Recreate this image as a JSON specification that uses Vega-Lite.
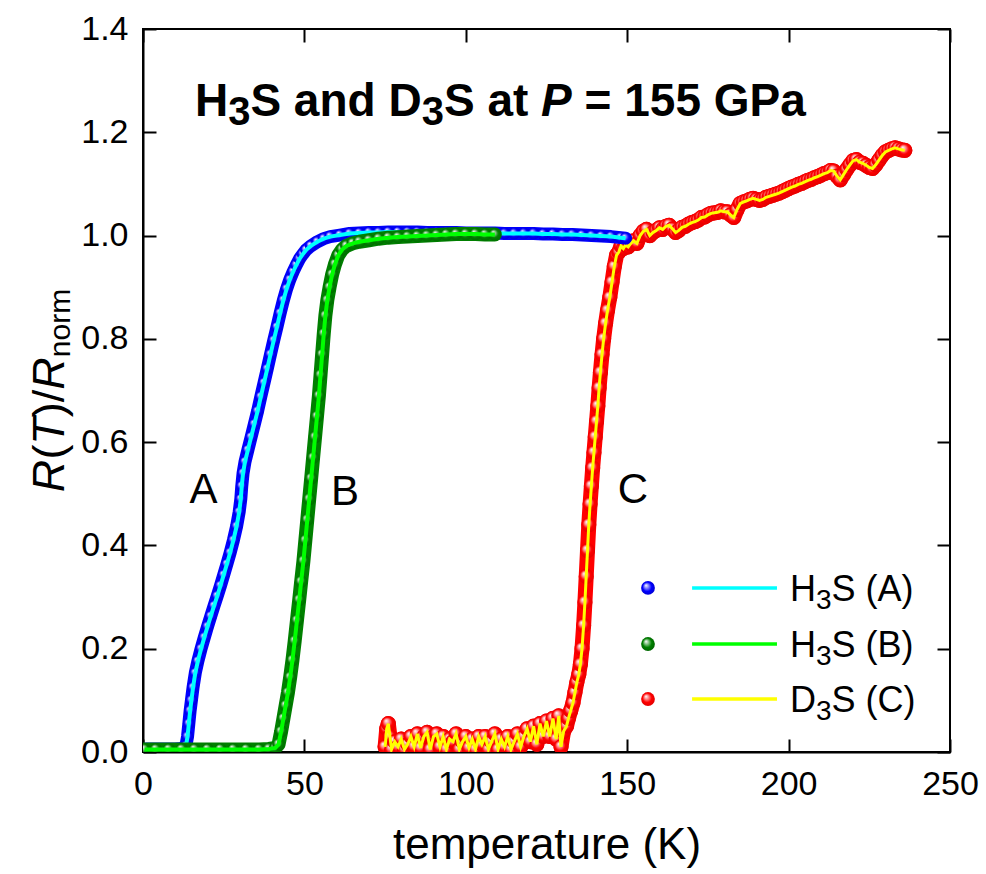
{
"$schema":"https://vega.github.io/schema/vega-lite/v6.json",
"autosize":{"type":"none"},
"padding":{"left":143,"top":29,"right":36,"bottom":122},
"width":807,"height":723,
"background":"#ffffff",
"config":{"view":{"stroke":"#000000","strokeWidth":2},"font":"Liberation Sans",
"axis":{"labelFont":"Liberation Sans","labelFontSize":34,"labelColor":"#000000","titleFont":"Liberation Sans","titleFontSize":44,"titleFontWeight":"normal","titleColor":"#000000","domainColor":"#000000","domainWidth":2,"tickColor":"#000000","tickWidth":2,"grid":false,"labelFlush":false,"labelOverlap":false}},
"datasets":{
"A":[{"T":1,"R":0.006},{"T":4,"R":0.006},{"T":7,"R":0.006},{"T":10,"R":0.006},{"T":12,"R":0.007},{"T":13.3,"R":0.012},{"T":13.8,"R":0.03},{"T":14.2,"R":0.055},{"T":14.6,"R":0.08},{"T":15,"R":0.1},{"T":15.5,"R":0.125},{"T":16.2,"R":0.153},{"T":17,"R":0.176},{"T":18,"R":0.2},{"T":19,"R":0.222},{"T":20,"R":0.243},{"T":21,"R":0.263},{"T":22,"R":0.283},{"T":23,"R":0.302},{"T":24,"R":0.322},{"T":25,"R":0.343},{"T":26,"R":0.364},{"T":27,"R":0.386},{"T":28,"R":0.41},{"T":29,"R":0.437},{"T":29.8,"R":0.465},{"T":30.3,"R":0.49},{"T":30.6,"R":0.515},{"T":31,"R":0.54},{"T":31.6,"R":0.562},{"T":32.5,"R":0.585},{"T":33.5,"R":0.61},{"T":34.5,"R":0.635},{"T":35.5,"R":0.66},{"T":36.5,"R":0.688},{"T":37.5,"R":0.715},{"T":38.5,"R":0.742},{"T":39.5,"R":0.77},{"T":40.5,"R":0.797},{"T":41.5,"R":0.823},{"T":42.5,"R":0.85},{"T":43.5,"R":0.875},{"T":44.5,"R":0.897},{"T":45.5,"R":0.915},{"T":46.5,"R":0.93},{"T":47.5,"R":0.943},{"T":48.5,"R":0.955},{"T":49.5,"R":0.964},{"T":50.5,"R":0.972},{"T":52,"R":0.98},{"T":54,"R":0.988},{"T":56,"R":0.994},{"T":58,"R":0.998},{"T":61,"R":1.001},{"T":64,"R":1.004},{"T":67,"R":1.005},{"T":70,"R":1.006},{"T":73,"R":1.006},{"T":76,"R":1.007},{"T":79,"R":1.007},{"T":82,"R":1.007},{"T":85,"R":1.007},{"T":88,"R":1.006},{"T":91,"R":1.006},{"T":94,"R":1.006},{"T":97,"R":1.006},{"T":100,"R":1.005},{"T":103,"R":1.005},{"T":106,"R":1.005},{"T":109,"R":1.005},{"T":112,"R":1.004},{"T":115,"R":1.004},{"T":118,"R":1.004},{"T":121,"R":1.004},{"T":124,"R":1.003},{"T":127,"R":1.003},{"T":130,"R":1.002},{"T":133,"R":1.002},{"T":136,"R":1.001},{"T":139,"R":1.0},{"T":142,"R":0.999},{"T":145,"R":0.998},{"T":148,"R":0.996},{"T":149.5,"R":0.995}],
"B":[{"T":0.5,"R":0.005},{"T":4,"R":0.005},{"T":8,"R":0.005},{"T":12,"R":0.005},{"T":16,"R":0.005},{"T":20,"R":0.005},{"T":24,"R":0.005},{"T":28,"R":0.005},{"T":32,"R":0.005},{"T":36,"R":0.005},{"T":39,"R":0.006},{"T":41,"R":0.008},{"T":42,"R":0.015},{"T":42.8,"R":0.04},{"T":43.5,"R":0.065},{"T":44.2,"R":0.09},{"T":44.9,"R":0.115},{"T":45.6,"R":0.145},{"T":46.3,"R":0.178},{"T":47,"R":0.215},{"T":47.7,"R":0.255},{"T":48.4,"R":0.295},{"T":49,"R":0.33},{"T":49.7,"R":0.37},{"T":50.3,"R":0.41},{"T":50.9,"R":0.45},{"T":51.5,"R":0.49},{"T":52.1,"R":0.53},{"T":52.7,"R":0.57},{"T":53.3,"R":0.61},{"T":53.9,"R":0.65},{"T":54.5,"R":0.69},{"T":55,"R":0.73},{"T":55.5,"R":0.77},{"T":56,"R":0.81},{"T":56.5,"R":0.845},{"T":57.1,"R":0.875},{"T":57.8,"R":0.9},{"T":58.6,"R":0.925},{"T":59.5,"R":0.945},{"T":60.5,"R":0.962},{"T":61.7,"R":0.973},{"T":63,"R":0.98},{"T":65,"R":0.985},{"T":67,"R":0.988},{"T":70,"R":0.991},{"T":73,"R":0.994},{"T":76,"R":0.996},{"T":79,"R":0.997},{"T":82,"R":0.998},{"T":85,"R":0.999},{"T":88,"R":1.0},{"T":91,"R":1.001},{"T":94,"R":1.002},{"T":97,"R":1.003},{"T":100,"R":1.003},{"T":103,"R":1.003},{"T":106,"R":1.002},{"T":109,"R":1.002}],
"C":[{"T":75,"R":0.01},{"T":75.5,"R":0.045},{"T":76,"R":0.055},{"T":76.5,"R":0.03},{"T":77,"R":0.005},{"T":78,"R":0.02},{"T":79,"R":0.01},{"T":80,"R":0.025},{"T":81,"R":0.005},{"T":82,"R":0.015},{"T":83,"R":0.03},{"T":84,"R":0.01},{"T":85,"R":0.035},{"T":86,"R":0.008},{"T":87,"R":0.03},{"T":88,"R":0.038},{"T":89,"R":0.005},{"T":90,"R":0.03},{"T":91,"R":0.035},{"T":92,"R":0.01},{"T":93,"R":0.03},{"T":94,"R":0.005},{"T":95,"R":0.025},{"T":96,"R":0.02},{"T":97,"R":0.035},{"T":98,"R":0.005},{"T":99,"R":0.02},{"T":100,"R":0.03},{"T":101,"R":0.008},{"T":102,"R":0.025},{"T":103,"R":0.005},{"T":104,"R":0.03},{"T":105,"R":0.015},{"T":106,"R":0.03},{"T":107,"R":0.005},{"T":108,"R":0.02},{"T":109,"R":0.035},{"T":110,"R":0.005},{"T":111,"R":0.025},{"T":112,"R":0.01},{"T":113,"R":0.03},{"T":114,"R":0.005},{"T":115,"R":0.02},{"T":116,"R":0.035},{"T":117,"R":0.01},{"T":118,"R":0.03},{"T":119,"R":0.045},{"T":120,"R":0.02},{"T":121,"R":0.05},{"T":122,"R":0.015},{"T":123,"R":0.055},{"T":124,"R":0.03},{"T":125,"R":0.06},{"T":126,"R":0.03},{"T":127,"R":0.065},{"T":128,"R":0.025},{"T":128.8,"R":0.07},{"T":129.5,"R":0.01},{"T":130.3,"R":0.04},{"T":131.2,"R":0.05},{"T":131.8,"R":0.065},{"T":132.5,"R":0.08},{"T":133.2,"R":0.095},{"T":133.8,"R":0.115},{"T":134.4,"R":0.135},{"T":135,"R":0.15},{"T":135.5,"R":0.17},{"T":136,"R":0.2},{"T":136.5,"R":0.245},{"T":136.9,"R":0.29},{"T":137.3,"R":0.34},{"T":137.7,"R":0.39},{"T":138.1,"R":0.44},{"T":138.5,"R":0.48},{"T":138.9,"R":0.515},{"T":139.3,"R":0.55},{"T":139.7,"R":0.58},{"T":140.1,"R":0.61},{"T":140.5,"R":0.64},{"T":140.9,"R":0.67},{"T":141.3,"R":0.705},{"T":141.7,"R":0.735},{"T":142.2,"R":0.77},{"T":142.7,"R":0.8},{"T":143.3,"R":0.83},{"T":143.9,"R":0.855},{"T":144.6,"R":0.88},{"T":145.3,"R":0.91},{"T":146,"R":0.94},{"T":146.7,"R":0.962},{"T":147.4,"R":0.968},{"T":148.1,"R":0.98},{"T":148.8,"R":0.975},{"T":149.5,"R":0.982},{"T":150.3,"R":0.978},{"T":151,"R":0.984},{"T":152,"R":0.99},{"T":153,"R":0.985},{"T":154,"R":1.0},{"T":155,"R":1.008},{"T":156,"R":1.012},{"T":157,"R":1.0},{"T":158,"R":1.006},{"T":159,"R":1.01},{"T":160,"R":1.015},{"T":161,"R":1.012},{"T":162,"R":1.018},{"T":163,"R":1.02},{"T":164,"R":1.013},{"T":165,"R":1.006},{"T":166,"R":1.01},{"T":167,"R":1.016},{"T":168,"R":1.018},{"T":169,"R":1.022},{"T":170,"R":1.025},{"T":171,"R":1.027},{"T":172,"R":1.03},{"T":173,"R":1.035},{"T":174,"R":1.036},{"T":175,"R":1.04},{"T":176,"R":1.043},{"T":177,"R":1.044},{"T":178,"R":1.045},{"T":179,"R":1.048},{"T":180,"R":1.046},{"T":181,"R":1.046},{"T":182,"R":1.04},{"T":183,"R":1.035},{"T":184,"R":1.05},{"T":185,"R":1.062},{"T":186,"R":1.065},{"T":187,"R":1.067},{"T":188,"R":1.07},{"T":189,"R":1.072},{"T":190,"R":1.07},{"T":191,"R":1.068},{"T":192,"R":1.07},{"T":193,"R":1.074},{"T":194,"R":1.076},{"T":195,"R":1.078},{"T":196,"R":1.08},{"T":197,"R":1.082},{"T":198,"R":1.085},{"T":199,"R":1.088},{"T":200,"R":1.091},{"T":201,"R":1.094},{"T":202,"R":1.096},{"T":203,"R":1.099},{"T":204,"R":1.101},{"T":205,"R":1.104},{"T":206,"R":1.107},{"T":207,"R":1.109},{"T":208,"R":1.112},{"T":209,"R":1.114},{"T":210,"R":1.117},{"T":211,"R":1.12},{"T":212,"R":1.122},{"T":213,"R":1.126},{"T":214,"R":1.125},{"T":215,"R":1.115},{"T":216,"R":1.108},{"T":217,"R":1.118},{"T":218,"R":1.128},{"T":219,"R":1.137},{"T":220,"R":1.145},{"T":221,"R":1.147},{"T":222,"R":1.142},{"T":223,"R":1.14},{"T":224,"R":1.136},{"T":225,"R":1.132},{"T":226,"R":1.13},{"T":227,"R":1.137},{"T":228,"R":1.146},{"T":229,"R":1.155},{"T":230,"R":1.162},{"T":231,"R":1.165},{"T":232,"R":1.168},{"T":233,"R":1.17},{"T":234,"R":1.168},{"T":235,"R":1.166},{"T":236,"R":1.165}],
"legLines":[{"T1":170.1,"T2":196.4,"R":0.3176,"k":"A"},{"T1":170.1,"T2":196.4,"R":0.2091,"k":"B"},{"T1":170.1,"T2":196.4,"R":0.1026,"k":"C"}],
"legText":[{"T":200.43,"R":0.2924,"txt":"H"},{"T":213.3,"R":0.2924,"txt":"S (A)"},{"T":200.43,"R":0.184,"txt":"H"},{"T":213.3,"R":0.184,"txt":"S (B)"},{"T":200.43,"R":0.0775,"txt":"D"},{"T":213.3,"R":0.0775,"txt":"S (C)"}],
"legSub":[{"T":208.5,"R":0.2769,"txt":"3"},{"T":208.5,"R":0.1685,"txt":"3"},{"T":208.5,"R":0.062,"txt":"3"}]
},
"resolve":{"axis":{"x":"independent","y":"independent"}},
"layer":[
{"data":{"name":"C"},"mark":{"type":"line","color":"#ff0000","strokeWidth":15,"strokeJoin":"round","strokeCap":"round","clip":true},
"encoding":{"x":{"field":"T","type":"quantitative","scale":{"domain":[0,250],"nice":false,"zero":false},"axis":{"orient":"bottom","values":[0,50,100,150,200,250],"title":"temperature (K)","tickSize":-13,"labelPadding":28,"titlePadding":22}},
"y":{"field":"R","type":"quantitative","scale":{"domain":[0,1.4],"nice":false,"zero":false},"axis":{"orient":"left","values":[0,0.2,0.4,0.6,0.8,1,1.2,1.4],"format":".1f","title":null,"tickSize":-13,"labelPadding":28}}}},
{"data":{"name":"C"},"mark":{"type":"point","filled":true,"size":230,"opacity":1,"clip":true,"fill":{"gradient":"radial","x1":0.35,"y1":0.3,"r1":0,"x2":0.5,"y2":0.5,"r2":0.55,"stops":[{"offset":0,"color":"#ffffff"},{"offset":0.3,"color":"#ff9090"},{"offset":0.6,"color":"#ff0000"},{"offset":1,"color":"#e00000"}]},"strokeWidth":0},
"encoding":{"x":{"field":"T","type":"quantitative","axis":{"orient":"top","values":[0,50,100,150,200,250],"labels":false,"domain":false,"title":null,"tickSize":-13}},
"y":{"field":"R","type":"quantitative","axis":{"orient":"right","values":[0,0.2,0.4,0.6,0.8,1,1.2,1.4],"labels":false,"domain":false,"title":null,"tickSize":-13}}}},
{"data":{"name":"C"},"mark":{"type":"line","color":"#ffff00","strokeWidth":3,"clip":true},
"encoding":{"x":{"field":"T","type":"quantitative","axis":null},"y":{"field":"R","type":"quantitative","axis":null}}},
{"data":{"name":"A"},"mark":{"type":"line","color":"#0000ff","strokeWidth":13,"strokeJoin":"round","strokeCap":"round","clip":true},
"encoding":{"x":{"field":"T","type":"quantitative","axis":null},"y":{"field":"R","type":"quantitative","axis":null}}},
{"data":{"name":"A"},"mark":{"type":"point","filled":true,"size":140,"opacity":1,"clip":true,"fill":{"gradient":"radial","x1":0.35,"y1":0.3,"r1":0,"x2":0.5,"y2":0.5,"r2":0.55,"stops":[{"offset":0,"color":"#ffffff"},{"offset":0.3,"color":"#8080ff"},{"offset":0.6,"color":"#0000ff"},{"offset":1,"color":"#0000d0"}]},"strokeWidth":0},
"encoding":{"x":{"field":"T","type":"quantitative","axis":null},"y":{"field":"R","type":"quantitative","axis":null}}},
{"data":{"name":"A"},"mark":{"type":"line","color":"#00ffff","strokeWidth":4,"clip":true},
"encoding":{"x":{"field":"T","type":"quantitative","axis":null},"y":{"field":"R","type":"quantitative","axis":null}}},
{"data":{"name":"B"},"mark":{"type":"line","color":"#008000","strokeWidth":14,"strokeJoin":"round","strokeCap":"round","clip":true},
"encoding":{"x":{"field":"T","type":"quantitative","axis":null},"y":{"field":"R","type":"quantitative","axis":null}}},
{"data":{"name":"B"},"mark":{"type":"point","filled":true,"size":160,"opacity":1,"clip":true,"fill":{"gradient":"radial","x1":0.35,"y1":0.3,"r1":0,"x2":0.5,"y2":0.5,"r2":0.55,"stops":[{"offset":0,"color":"#ffffff"},{"offset":0.3,"color":"#80c080"},{"offset":0.6,"color":"#008000"},{"offset":1,"color":"#006800"}]},"strokeWidth":0},
"encoding":{"x":{"field":"T","type":"quantitative","axis":null},"y":{"field":"R","type":"quantitative","axis":null}}},
{"data":{"name":"B"},"mark":{"type":"line","color":"#00ff00","strokeWidth":4,"clip":true},
"encoding":{"x":{"field":"T","type":"quantitative","axis":null},"y":{"field":"R","type":"quantitative","axis":null}}},
{"data":{"values":[{"T":18.74,"R":0.4822,"txt":"A"},{"T":62.58,"R":0.478,"txt":"B"},{"T":151.8,"R":0.4822,"txt":"C"}]},"mark":{"type":"text","font":"Liberation Sans","fontSize":42,"align":"center","baseline":"alphabetic","color":"#000000"},
"encoding":{"x":{"field":"T","type":"quantitative","axis":null},"y":{"field":"R","type":"quantitative","axis":null},"text":{"field":"txt"}}},
{"data":{"values":[{"T":16.11,"R":1.2316,"txt":"H"},{"T":33.27,"R":1.2316,"txt":"S and D"},{"T":93.22,"R":1.2316,"txt":"S at"},{"T":136.8,"R":1.2316,"txt":"= 155 GPa"}]},"mark":{"type":"text","font":"Liberation Sans","fontSize":46,"fontWeight":"bold","align":"left","baseline":"alphabetic","color":"#000000"},
"encoding":{"x":{"field":"T","type":"quantitative","axis":null},"y":{"field":"R","type":"quantitative","axis":null},"text":{"field":"txt"}}},
{"data":{"values":[{"T":26.39,"R":1.2142,"txt":"3"},{"T":86.34,"R":1.2142,"txt":"3"}]},"mark":{"type":"text","font":"Liberation Sans","fontSize":40,"fontWeight":"bold","align":"left","baseline":"alphabetic","color":"#000000"},
"encoding":{"x":{"field":"T","type":"quantitative","axis":null},"y":{"field":"R","type":"quantitative","axis":null},"text":{"field":"txt"}}},
{"data":{"values":[{"T":123.33,"R":1.2316,"txt":"P"}]},"mark":{"type":"text","font":"Liberation Sans","fontSize":46,"fontWeight":"bold","fontStyle":"italic","align":"left","baseline":"alphabetic","color":"#000000"},
"encoding":{"x":{"field":"T","type":"quantitative","axis":null},"y":{"field":"R","type":"quantitative","axis":null},"text":{"field":"txt"}}},
{"data":{"values":[{"T":156.44,"R":0.3176}]},"mark":{"type":"point","filled":true,"size":190,"opacity":1,"fill":{"gradient":"radial","x1":0.35,"y1":0.3,"r1":0,"x2":0.5,"y2":0.5,"r2":0.55,"stops":[{"offset":0,"color":"#ffffff"},{"offset":0.3,"color":"#8080ff"},{"offset":0.6,"color":"#0000ff"},{"offset":1,"color":"#0000cc"}]},"strokeWidth":0},
"encoding":{"x":{"field":"T","type":"quantitative","axis":null},"y":{"field":"R","type":"quantitative","axis":null}}},
{"data":{"values":[{"T":156.44,"R":0.2091}]},"mark":{"type":"point","filled":true,"size":190,"opacity":1,"fill":{"gradient":"radial","x1":0.35,"y1":0.3,"r1":0,"x2":0.5,"y2":0.5,"r2":0.55,"stops":[{"offset":0,"color":"#ffffff"},{"offset":0.3,"color":"#80c080"},{"offset":0.6,"color":"#008000"},{"offset":1,"color":"#006000"}]},"strokeWidth":0},
"encoding":{"x":{"field":"T","type":"quantitative","axis":null},"y":{"field":"R","type":"quantitative","axis":null}}},
{"data":{"values":[{"T":156.44,"R":0.1026}]},"mark":{"type":"point","filled":true,"size":190,"opacity":1,"fill":{"gradient":"radial","x1":0.35,"y1":0.3,"r1":0,"x2":0.5,"y2":0.5,"r2":0.55,"stops":[{"offset":0,"color":"#ffffff"},{"offset":0.3,"color":"#ff8080"},{"offset":0.6,"color":"#ff0000"},{"offset":1,"color":"#dd0000"}]},"strokeWidth":0},
"encoding":{"x":{"field":"T","type":"quantitative","axis":null},"y":{"field":"R","type":"quantitative","axis":null}}},
{"data":{"name":"legLines"},"mark":{"type":"rule","strokeWidth":3.5},
"encoding":{"x":{"field":"T1","type":"quantitative","axis":null},"x2":{"field":"T2"},"y":{"field":"R","type":"quantitative","axis":null},"color":{"field":"k","type":"nominal","scale":{"domain":["A","B","C"],"range":["#00ffff","#00ff00","#ffff00"]},"legend":null}}},
{"data":{"name":"legText"},"mark":{"type":"text","font":"Liberation Sans","fontSize":36,"align":"left","baseline":"alphabetic","color":"#000000"},
"encoding":{"x":{"field":"T","type":"quantitative","axis":null},"y":{"field":"R","type":"quantitative","axis":null},"text":{"field":"txt"}}},
{"data":{"name":"legSub"},"mark":{"type":"text","font":"Liberation Sans","fontSize":28,"align":"left","baseline":"alphabetic","color":"#000000"},
"encoding":{"x":{"field":"T","type":"quantitative","axis":null},"y":{"field":"R","type":"quantitative","axis":null},"text":{"field":"txt"}}},
{"data":{"values":[{"T":-24.5,"R":0.5031,"txt":"R"},{"T":-24.5,"R":0.5951,"txt":"T"},{"T":-24.5,"R":0.7016,"txt":"R"}]},"mark":{"type":"text","font":"Liberation Sans","fontSize":45,"fontStyle":"italic","angle":270,"align":"left","baseline":"alphabetic","color":"#000000"},
"encoding":{"x":{"field":"T","type":"quantitative","axis":null},"y":{"field":"R","type":"quantitative","axis":null},"text":{"field":"txt"}}},
{"data":{"values":[{"T":-24.5,"R":0.5664,"txt":"("},{"T":-24.5,"R":0.6483,"txt":")/"}]},"mark":{"type":"text","font":"Liberation Sans","fontSize":45,"angle":270,"align":"left","baseline":"alphabetic","color":"#000000"},
"encoding":{"x":{"field":"T","type":"quantitative","axis":null},"y":{"field":"R","type":"quantitative","axis":null},"text":{"field":"txt"}}},
{"data":{"values":[{"T":-22.6,"R":0.7645,"txt":"norm"}]},"mark":{"type":"text","font":"Liberation Sans","fontSize":30,"angle":270,"align":"left","baseline":"alphabetic","color":"#000000"},
"encoding":{"x":{"field":"T","type":"quantitative","axis":null},"y":{"field":"R","type":"quantitative","axis":null},"text":{"field":"txt"}}}
]
}
